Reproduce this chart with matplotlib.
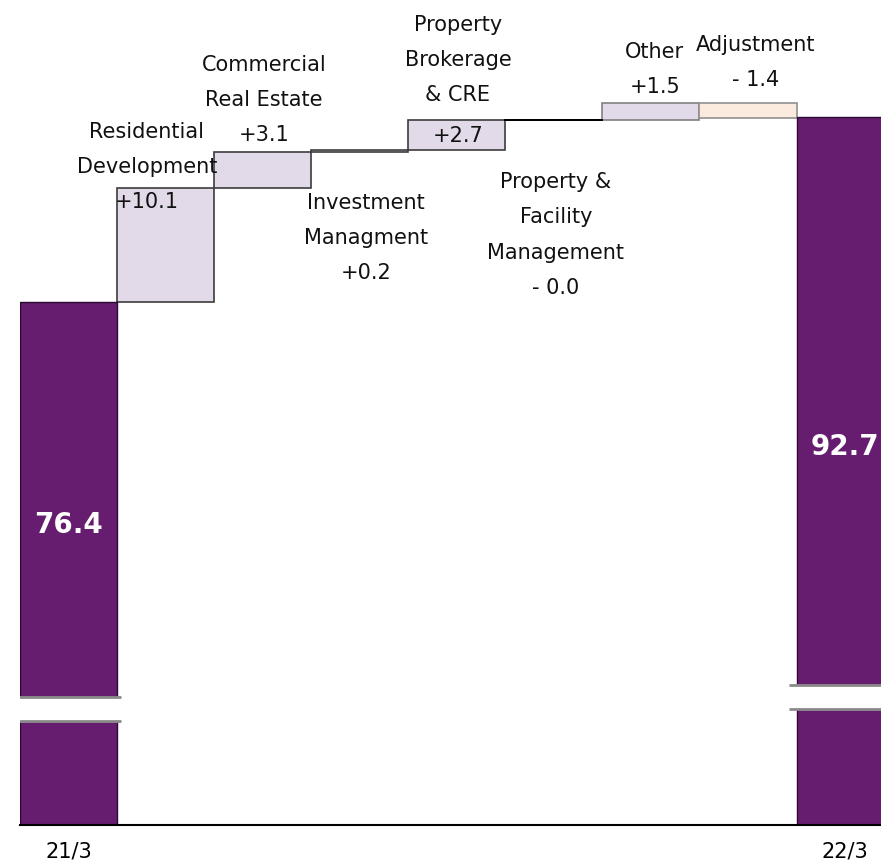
import matplotlib
matplotlib.use("Agg")
import matplotlib.pyplot as plt
import numpy as np

# operating profit bridge, 21/3 -> 22/3
start_label = "21/3"
end_label = "22/3"
start_value = 76.4
end_value = 92.7

segments = ["Residential\nDevelopment", "Commercial\nReal Estate",
            "Investment\nManagment", "Property\nBrokerage\n& CRE",
            "Property &\nFacility\nManagement", "Other", "Adjustment"]
changes = [10.1, 3.1, 0.2, 2.7, -0.0, 1.5, -1.4]

DARK = "#661d6f"
LIGHT = "#e3dae9"
PEACH = "#fbebdf"
FS = 15


def fmt(v):
    if v > 0:
        return "+{0:.1f}".format(v)
    return "- {0:.1f}".format(abs(v))


fig = plt.figure(figsize=(8.81, 8.62), dpi=100)
ax = fig.add_axes([20 / 881, 36 / 862, 861 / 881, 826 / 862])

# floating segments
bottoms = start_value + np.concatenate([[0], np.cumsum(changes)[:-1]])
tops = bottoms + np.array(changes)
xs = np.arange(1, len(changes) + 1)
face = [LIGHT] * 6 + [PEACH]
edge = ["#3c3c3c"] * 5 + ["#808080", "#909090"]
for x, b, t, fc, ec in zip(xs, bottoms, tops, face, edge):
    lo, hi = min(b, t), max(b, t)
    ax.bar(x, hi - lo, bottom=lo, width=1.0, color=fc, edgecolor=ec,
           linewidth=1.2, zorder=2)
# zero change drawn as a flat step
ax.plot([xs[4] - 0.5, xs[4] + 0.5], [tops[4], tops[4]], color="black",
        lw=1.4, zorder=3)

# totals
ax.bar([0, len(changes) + 1], [start_value, end_value], width=1.0,
       color=DARK, edgecolor="#2a0a2e", linewidth=1.0, zorder=2)

ax.set_xlim(-0.5, 8.37)
ax.set_ylim(30.24, 103.14)

# axis breaks on the total bars
for (x0, x1), (ya, yb) in [((-0.55, 0.54), (41.54, 39.42)),
                           ((7.42, 8.6), (42.6, 40.48))]:
    ax.fill_between([x0, x1], yb, ya, color="white", zorder=4)
    ax.plot([x0, x1], [ya, ya], color="#8a8a8a", lw=2, zorder=5,
            solid_capstyle="butt")
    ax.plot([x0, x1], [yb, yb], color="#8a8a8a", lw=2, zorder=5,
            solid_capstyle="butt")

# segment labels
blocks = [
    (0.808, 88.40, segments[0] + "\n" + fmt(changes[0])),
    (2.013, 94.32, segments[1] + "\n" + fmt(changes[1])),
    (3.063, 82.14, segments[2] + "\n" + fmt(changes[2])),
    (4.011, 97.85, segments[3]),
    (4.011, 91.14, fmt(changes[3])),
    (5.020, 82.40, segments[4] + "\n" + fmt(changes[4])),
    (6.040, 97.01, segments[5] + "\n" + fmt(changes[5])),
    (7.080, 97.63, segments[6] + "\n" + fmt(changes[6])),
]
for x, y, s in blocks:
    ax.text(x, y, s, ha="center", va="center", fontsize=FS,
            linespacing=1.95, color="#111111", zorder=6)

ax.text(0, 56.81, "{0:.1f}".format(start_value), ha="center", va="center",
        fontsize=20, fontweight="bold", color="white", zorder=6)
ax.text(8, 63.69, "{0:.1f}".format(end_value), ha="center", va="center",
        fontsize=20, fontweight="bold", color="white", zorder=6)

ax.set_xticks([0, len(changes) + 1])
ax.set_xticklabels([start_label, end_label], fontsize=FS)
ax.tick_params(axis="x", length=0, pad=11)
ax.set_yticks([])
for side in ["top", "left", "right"]:
    ax.spines[side].set_visible(False)
ax.spines["bottom"].set_linewidth(1.5)
ax.spines["bottom"].set_zorder(7)
ax.patch.set_alpha(0)

fig.savefig("out.png", dpi=100)
